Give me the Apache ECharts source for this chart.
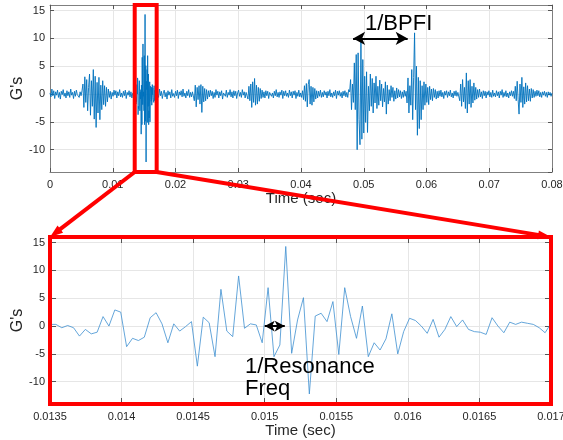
<!DOCTYPE html>
<html>
<head>
<meta charset="utf-8">
<script src="https://cdn.jsdelivr.net/npm/echarts@6/dist/echarts.min.js"></script>
<style>
  html, body { margin: 0; padding: 0; background: #fff; }
  #chart { width: 563px; height: 440px; }
</style>
</head>
<body>
<div id="chart"></div>
<script>
// time ranges (sec) and G range
var topRange = [0, 0.08];
var zoomRange = [0.0135, 0.017];
var gRange = [-14, 16];
var stepOverview = 0.00015;   // spacing of the overview values outside the zoom window

// overview signal, 0 .. 0.01335 s
var sigBefore = [
  0.2,-0.5,0.9,-0.3,0.6,-0.8,0.4,-0.2,0.7,-0.6,0.3,-0.9,0.5,-0.1,0.8,-0.4,0.2,-0.7,0.6,-0.3,
  0.4,-0.6,0.9,-0.2,0.3,-0.8,0.5,-0.4,0.7,-0.1,0.2,-0.6,0.4,-0.3,0.6,1.8,-2.4,3.1,-1.5,2.6,
  -3.0,1.2,3.6,-3.8,2.4,-2.2,4.4,-4.5,3.2,-6.0,2.1,-3.4,3.0,-4.6,1.6,-2.8,2.4,-1.9,1.5,-2.2,
  1.2,-1.4,0.9,-0.6,0.5,-0.9,0.3,-0.4,0.7,-0.2,0.6,-0.7,0.4,-0.3,0.8,-0.5,0.2,-0.6,0.5,-0.3,
  0.7,-0.8,0.3,-0.2,0.6,-0.5,0.4,-0.7,0.2,0.4
];

// zoomed window, 0.0135 .. 0.017 s (every sample)
var sigZoom = [
  0.3,0.3,-0.3,0.1,-0.3,-1.8,-0.6,-1.4,-1.1,1.7,0.0,2.9,2.5,-3.7,-2.2,-2.6,-2.0,1.5,2.4,0.4,
  -3.0,0.4,-0.9,-0.1,0.8,
  -7.2,1.6,0.6,-5.5,6.6,-0.9,-1.9,9.0,-0.4,0.4,0.2,-3.0,6.9,-5.5,-3.4,14.3,-4.9,1.1,5.1,-12.2,
  1.8,2.3,0.8,4.4,-5.1,6.9,1.7,-2.2,3.6,-5.5,-3.0,-4.3,
  -2.3,2.2,-5.0,-1.0,1.4,1.0,0.0,-1.3,1.2,-2.0,-0.6,1.7,-0.1,1.1,-0.6,-1.0,-1.1,-1.5,1.5,0.0,
  -1.2,0.7,0.3,0.7,0.5,0.3,-0.3,-1.2,0.5
];

// overview signal after the window, 0.01715 .. 0.08 s
var sigAfter = [
  0.4,-0.6,0.9,-0.3,0.5,-0.8,0.2,0.7,-0.5,0.3,-0.9,0.6,-0.2,0.4,-0.7,0.8,-0.4,0.1,-0.6,0.5,
  -0.3,0.7,-0.8,0.4,-0.2,0.6,-0.5,0.9,-0.4,0.2,-0.7,0.5,-0.3,0.8,-0.6,0.3,-0.5,0.4,0.6,-1.2,
  1.6,-2.3,1.2,-1.0,1.5,-1.8,1.7,-3.3,1.4,-1.4,1.0,-1.2,0.8,-0.9,0.6,-0.5,0.7,-0.3,0.5,-0.8,
  0.3,-0.6,0.8,-0.2,0.5,-0.7,0.4,-0.3,0.6,-0.9,0.2,0.5,-0.4,0.7,-0.6,0.3,-0.2,0.8,-0.5,0.4,
  -0.7,0.6,-0.3,0.5,-0.8,0.2,0.7,-0.4,0.3,-0.6,0.8,-0.2,0.4,-0.7,0.3,0.5,-0.9,1.4,-1.2,1.8,
  -2.4,2.2,-1.5,2.8,-2.0,1.6,-1.8,1.2,-1.3,1.0,-0.8,0.7,-0.6,0.4,-0.7,0.6,-0.3,0.5,-0.8,0.3,
  0.6,-0.4,0.2,-0.7,0.5,-0.3,0.8,-0.5,0.3,-0.6,0.4,-0.2,0.7,-0.8,0.5,-0.3,0.6,-0.4,0.2,-0.6,
  0.7,-0.3,0.4,-0.7,0.5,-0.2,0.6,-0.8,0.3,-0.4,0.7,-0.5,0.2,-0.6,0.6,-1.0,1.5,-1.3,1.9,-2.3,
  1.7,2.6,-1.8,1.4,-2.0,1.2,-1.4,1.0,-0.9,0.6,-0.7,0.5,-0.4,0.7,-0.6,0.3,-0.5,0.6,-0.2,0.4,
  -0.7,0.5,-0.3,0.8,-0.5,0.2,-0.6,0.4,-0.3,0.7,-0.8,0.5,-0.2,0.6,-0.4,0.3,-0.7,0.5,-0.3,0.6,
  -0.5,0.3,-0.6,0.8,0.4,2.6,-2.8,1.8,-1.5,5.6,-2.8,7.1,-10.0,7.4,-4.6,-9.1,9.5,-8.1,6.2,-7.0,
  3.2,-5.1,4.0,-6.9,1.4,-3.0,3.6,-2.2,2.8,-3.4,2.0,-1.6,3.2,-2.6,1.4,-2.0,2.5,-1.2,1.8,-2.3,
  1.0,-1.4,2.2,-3.6,1.6,-1.8,0.8,-1.2,1.5,-0.6,1.2,-1.3,0.6,-0.9,1.1,-0.7,0.8,-0.5,0.6,-0.8,
  0.4,-0.6,0.7,-0.4,0.5,-1.6,2.9,-3.4,1.5,-2.0,4.4,-4.6,3.0,11.0,-2.8,5.0,-7.4,3.0,-6.2,2.4,
  -4.6,1.5,-2.8,2.2,-2.0,1.8,-1.5,1.2,-1.9,1.4,-1.0,0.9,-1.2,1.0,-0.6,0.8,-0.9,0.5,-0.7,0.6,
  -0.4,0.7,-0.5,0.3,-0.8,0.5,-0.2,0.6,-0.6,0.4,-0.3,0.7,-0.5,0.2,-0.7,0.5,-0.3,0.6,-0.4,0.3,
  0.6,-1.2,1.8,-2.2,2.6,-1.4,1.2,-2.6,3.8,-3.4,2.4,-1.8,2.6,-2.4,1.4,-1.6,2.0,-1.1,1.2,-0.9,
  0.8,-0.6,0.9,-0.5,0.4,-0.8,0.6,-0.3,0.5,-0.7,0.4,-0.2,0.6,-0.5,0.3,-0.6,0.7,-0.4,0.2,-0.5,
  0.6,-0.3,0.4,-0.7,0.5,-0.2,0.8,-0.6,0.3,-0.4,0.6,-0.5,0.2,-0.7,0.4,-0.3,0.6,-0.4,0.5,-0.8,
  1.4,-1.2,2.3,-1.0,-3.6,1.8,-1.5,3.0,-2.4,1.3,-1.8,2.0,-1.4,1.5,-1.2,0.9,-1.3,1.0,-0.7,0.8,
  -0.6,0.5,-0.4,0.7,-0.3,0.6,-0.5,0.3,-0.6,0.4,-0.2,0.5,-0.4,0.3,-0.6,0.4,-0.2,0.3,-0.4,0.2
];

// annotation arrows [t0, t1, g]
var bpfiArrow = [0.0483, 0.0570, 10];
var resArrow = [0.01500, 0.01514, 0];

var stepZoom = (zoomRange[1] - zoomRange[0]) / (sigZoom.length - 1);
var zoomData = sigZoom.map(function (v, i) { return [zoomRange[0] + i * stepZoom, v]; });
var topData = [];
sigBefore.forEach(function (v, i) { topData.push([i * stepOverview, v]); });
topData = topData.concat(zoomData);
sigAfter.forEach(function (v, i) { topData.push([zoomRange[1] + (i + 1) * stepOverview, v]); });

var font = "'Liberation Sans', Arial, Helvetica, sans-serif";
var ink = '#262626';
var boxGray = '#7f7f7f';

function fmt(dec) {
  return function (v) { return String(parseFloat(v.toFixed(dec))); };
}

function xAx(grid, range, interval, dec, mirror, boxed) {
  return {
    type: 'value', gridIndex: grid, min: range[0], max: range[1], interval: interval,
    position: mirror ? 'top' : 'bottom',
    name: mirror ? '' : 'Time (sec)', nameLocation: 'middle', nameGap: 17,
    nameTextStyle: { fontFamily: font, fontSize: 15, color: ink },
    axisLine: { show: boxed, onZero: false, lineStyle: { color: boxGray, width: 1 } },
    axisTick: { show: true, inside: true, length: boxed ? 4 : 6, lineStyle: { color: '#555' } },
    axisLabel: { show: !mirror, margin: 7, fontFamily: font, fontSize: 11, color: ink, formatter: fmt(dec) },
    splitLine: { show: !mirror, lineStyle: { color: '#e6e6e6', width: 1 } }
  };
}

function yAx(grid, mirror, boxed) {
  return {
    type: 'value', gridIndex: grid, min: gRange[0], max: gRange[1], splitNumber: 6,
    position: mirror ? 'right' : 'left',
    name: mirror ? '' : "G's", nameLocation: 'middle', nameGap: 24, nameRotate: 90,
    nameMoveOverlap: false,
    nameTextStyle: { fontFamily: font, fontSize: 16, color: ink },
    axisLine: { show: boxed, onZero: false, lineStyle: { color: boxGray, width: 1 } },
    axisTick: { show: true, inside: true, length: boxed ? 4 : 6, lineStyle: { color: '#555' } },
    axisLabel: { show: !mirror, margin: 5, fontFamily: font, fontSize: 11, color: ink,
      showMinLabel: false, showMaxLabel: false },
    splitLine: { show: !mirror, lineStyle: { color: '#e6e6e6', width: 1 } }
  };
}

var arrowLine = function (a, size) {
  return {
    silent: true, animation: false,
    symbol: ['arrow', 'arrow'], symbolSize: size,
    label: { show: false },
    lineStyle: { color: '#000', width: 2, type: 'solid' },
    emphasis: { disabled: true },
    data: [[{ coord: [a[0], a[2]] }, { coord: [a[1], a[2]] }]]
  };
};

var chart = echarts.init(document.getElementById('chart'));
var option = {
  animation: false,
  backgroundColor: '#fff',
  grid: [
    { left: 50, top: 5, width: 502, height: 167, outerBoundsMode: 'none' },
    { left: 50, top: 237, width: 501, height: 167, outerBoundsMode: 'none' }
  ],
  xAxis: [
    xAx(0, topRange, 0.01, 3, false, true),
    xAx(0, topRange, 0.01, 3, true, true),
    xAx(1, zoomRange, 0.0005, 4, false, false),
    xAx(1, zoomRange, 0.0005, 4, true, false)
  ],
  yAxis: [yAx(0, false, true), yAx(0, true, true), yAx(1, false, false), yAx(1, true, false)],
  series: [
    {
      type: 'line', xAxisIndex: 0, yAxisIndex: 0, data: topData,
      showSymbol: false, sampling: null,
      lineStyle: { color: '#0072bd', width: 0.9 },
      markLine: arrowLine(bpfiArrow, [10, 12])
    },
    {
      type: 'line', xAxisIndex: 2, yAxisIndex: 2, data: zoomData,
      showSymbol: false,
      lineStyle: { color: '#3d8fd1', width: 0.8 },
      markLine: arrowLine(resArrow, [8, 10])
    }
  ]
};
chart.setOption(option);

// red zoom boxes and connector arrows
function px(g, x, y) {
  return chart.convertToPixel({ xAxisIndex: g * 2, yAxisIndex: g * 2 }, [x, y]);
}
var a = px(0, zoomRange[0], gRange[1]), b = px(0, zoomRange[1], gRange[0]);
var c = px(1, zoomRange[0], gRange[1]), d = px(1, zoomRange[1], gRange[0]);
var red = '#ff0000';

function connector(from, to) {
  var dx = to[0] - from[0], dy = to[1] - from[1];
  var len = Math.sqrt(dx * dx + dy * dy);
  var ux = dx / len, uy = dy / len, L = 13, W = 4.5;
  var base = [to[0] - ux * L, to[1] - uy * L];
  return [
    { type: 'line', z: 100, shape: { x1: from[0], y1: from[1], x2: base[0] + ux * 3, y2: base[1] + uy * 3 },
      style: { stroke: red, lineWidth: 4 } },
    { type: 'polygon', z: 100, shape: { points: [to, [base[0] - uy * W, base[1] + ux * W], [base[0] + uy * W, base[1] - ux * W]] },
      style: { fill: red } }
  ];
}

var g = [
  { type: 'rect', z: 100, shape: { x: a[0], y: a[1], width: b[0] - a[0], height: b[1] - a[1] },
    style: { fill: 'none', stroke: red, lineWidth: 4 } },
  { type: 'rect', z: 100, shape: { x: c[0], y: c[1], width: d[0] - c[0], height: d[1] - c[1] },
    style: { fill: 'none', stroke: red, lineWidth: 4 } }
];
g = g.concat(connector([a[0], b[1]], [c[0], c[1]]));
g = g.concat(connector([b[0], b[1]], [d[0], c[1]]));
g.push({ type: 'text', z: 101, style: { x: 365, y: 24, text: '1/BPFI', fill: '#000',
  font: '22px ' + font, verticalAlign: 'middle' } });
g.push({ type: 'text', z: 101, style: { x: 245, y: 367, text: '1/Resonance', fill: '#000',
  font: '22px ' + font, verticalAlign: 'middle' } });
g.push({ type: 'text', z: 101, style: { x: 245, y: 389, text: 'Freq', fill: '#000',
  font: '22px ' + font, verticalAlign: 'middle' } });

chart.setOption({ graphic: g });
</script>
</body>
</html>
